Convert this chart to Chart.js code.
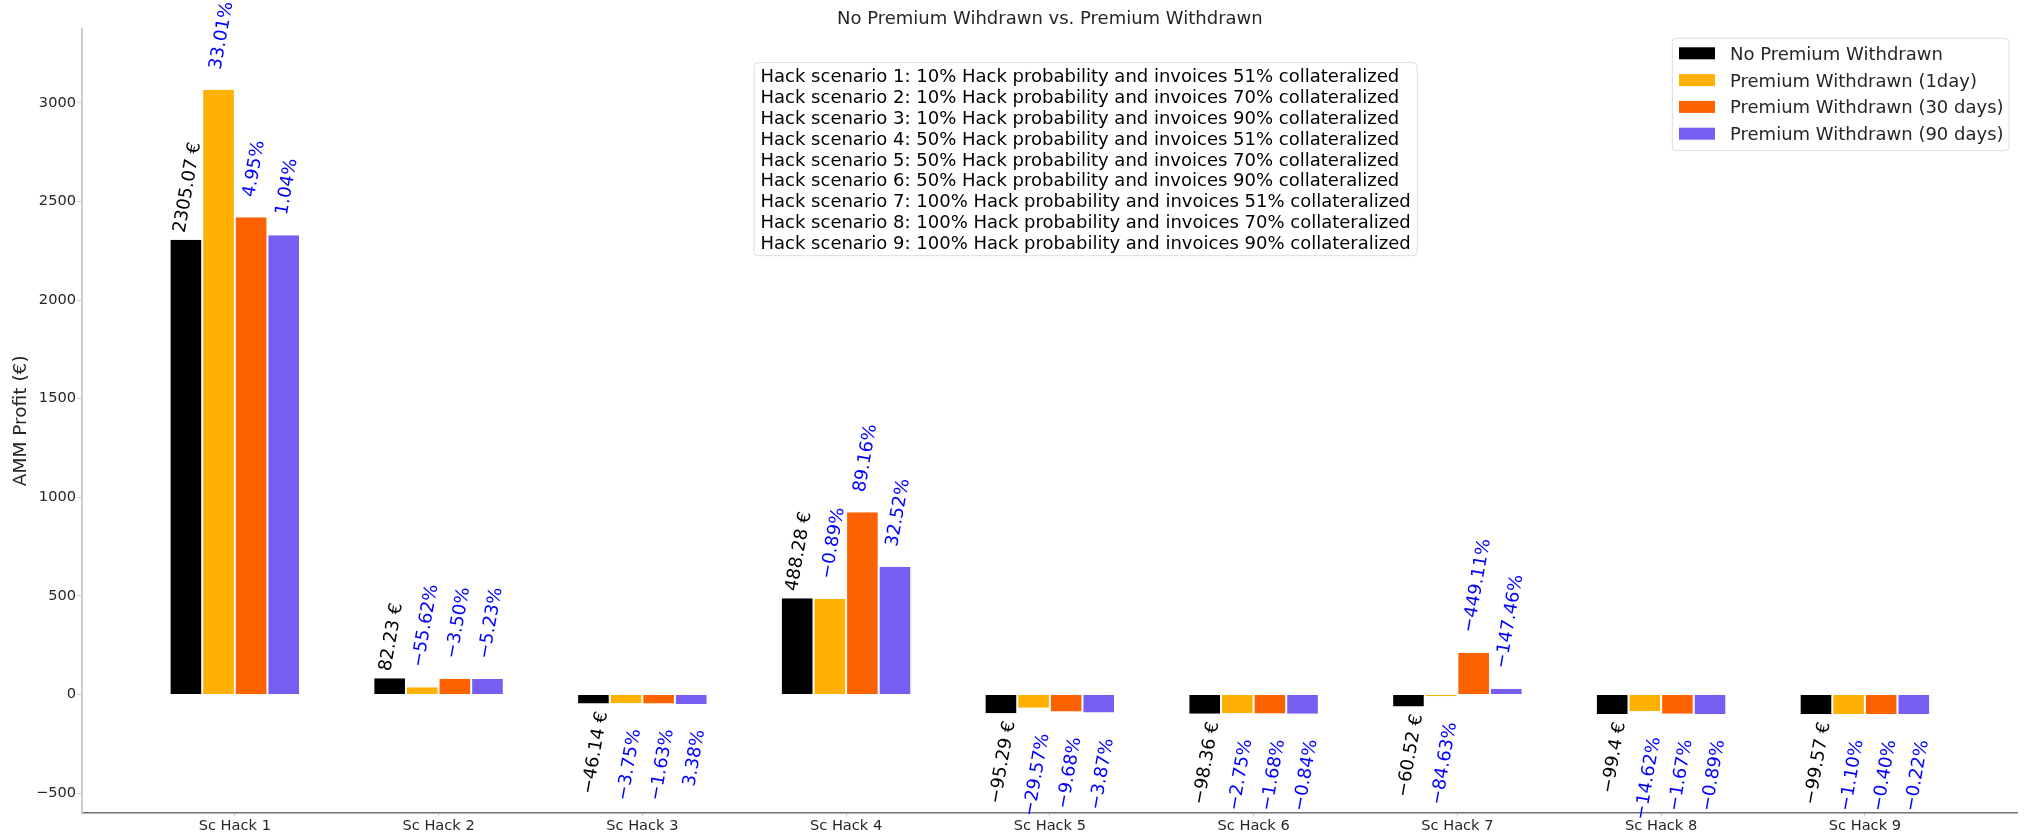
<!DOCTYPE html>
<html><head><meta charset="utf-8">
<script src="https://cdn.jsdelivr.net/npm/chart.js@4.4.0/dist/chart.umd.min.js"></script>
<style>html,body{margin:0;padding:0;background:#fff;} canvas{display:block;}</style>
</head><body>
<canvas id="c" width="2027" height="834"></canvas>
<script>
// ---- data ----
const categories = ['Sc Hack 1','Sc Hack 2','Sc Hack 3','Sc Hack 4','Sc Hack 5','Sc Hack 6','Sc Hack 7','Sc Hack 8','Sc Hack 9'];
const seriesNames = ['No Premium Withdrawn','Premium Withdrawn (1day)','Premium Withdrawn (30 days)','Premium Withdrawn (90 days)'];
const seriesColors = ['#000000','#FFB000','#FE6100','#785EF0'];
const noPremium  = [2305.07, 82.23, -46.14, 488.28, -95.29, -98.36, -60.52, -99.40, -99.57];
const premium1d  = [3066.00, 36.49, -44.41, 483.93, -67.11, -95.65, -9.30, -84.87, -98.47];
const premium30d = [2419.20, 79.35, -45.39, 923.63, -86.07, -96.71, 211.28, -97.74, -99.17];
const premium90d = [2329.00, 77.93, -47.70, 647.07, -91.60, -97.53, 28.72, -98.52, -99.35];
const euroLabels = ['2305.07 €','82.23 €','−46.14 €','488.28 €','−95.29 €','−98.36 €','−60.52 €','−99.4 €','−99.57 €'];
const pct1d  = ['33.01%','−55.62%','−3.75%','−0.89%','−29.57%','−2.75%','−84.63%','−14.62%','−1.10%'];
const pct30d = ['4.95%','−3.50%','−1.63%','89.16%','−9.68%','−1.68%','−449.11%','−1.67%','−0.40%'];
const pct90d = ['1.04%','−5.23%','3.38%','32.52%','−3.87%','−0.84%','−147.46%','−0.89%','−0.22%'];
const yTicks = [-500, 0, 500, 1000, 1500, 2000, 2500, 3000];
const yMin = -597.42, yMax = 3372.6;
const titleText = 'No Premium Wihdrawn vs. Premium Withdrawn';
const yTitleText = 'AMM Profit (€)';
const scenarioLines = [
 'Hack scenario 1: 10% Hack probability and invoices 51% collateralized',
 'Hack scenario 2: 10% Hack probability and invoices 70% collateralized',
 'Hack scenario 3: 10% Hack probability and invoices 90% collateralized',
 'Hack scenario 4: 50% Hack probability and invoices 51% collateralized',
 'Hack scenario 5: 50% Hack probability and invoices 70% collateralized',
 'Hack scenario 6: 50% Hack probability and invoices 90% collateralized',
 'Hack scenario 7: 100% Hack probability and invoices 51% collateralized',
 'Hack scenario 8: 100% Hack probability and invoices 70% collateralized',
 'Hack scenario 9: 100% Hack probability and invoices 90% collateralized'
];

const seriesValues = [noPremium, premium1d, premium30d, premium90d];
const seriesLabels = [euroLabels, pct1d, pct30d, pct90d];
const FONT = 'DejaVu Sans';
const TXT = '#262626';

Chart.defaults.font.family = FONT;
Chart.defaults.color = TXT;

function roundRect(ctx, x, y, w, h, r) {
  ctx.beginPath();
  ctx.moveTo(x + r, y);
  ctx.lineTo(x + w - r, y); ctx.quadraticCurveTo(x + w, y, x + w, y + r);
  ctx.lineTo(x + w, y + h - r); ctx.quadraticCurveTo(x + w, y + h, x + w - r, y + h);
  ctx.lineTo(x + r, y + h); ctx.quadraticCurveTo(x, y + h, x, y + h - r);
  ctx.lineTo(x, y + r); ctx.quadraticCurveTo(x, y, x + r, y);
  ctx.closePath();
}

const decor = {
  id: 'decor',
  afterDatasetsDraw(chart) {
    const ctx = chart.ctx;
    const fs = 18;
    const th = -80 * Math.PI / 180;
    const c = Math.cos(th), s = Math.sin(th);
    ctx.save();
    ctx.font = fs + 'px "' + FONT + '"';
    ctx.textAlign = 'left';
    ctx.textBaseline = 'alphabetic';
    chart.data.datasets.forEach((ds, d) => {
      const meta = chart.getDatasetMeta(d);
      meta.data.forEach((el, i) => {
        const txt = seriesLabels[d][i];
        const v = seriesValues[d][i];
        const W = ctx.measureText(txt).width;
        const A = 0.73 * fs;
        const pts = [[0,0],[W,0],[0,-A],[W,-A]].map(([x,y]) => [x*c - y*s, x*s + y*c]);
        const minX = Math.min(...pts.map(p=>p[0])), maxX = Math.max(...pts.map(p=>p[0]));
        const minY = Math.min(...pts.map(p=>p[1])), maxY = Math.max(...pts.map(p=>p[1]));
        const cx = el.x + (d === 0 ? 0 : 1.5);
        const ox = cx - (minX + maxX) / 2;
        let oy;
        if (v >= 0) {
          const off = d === 0 ? 6.5 : 19.5;
          oy = (el.y - off) - maxY;
        } else {
          const off = d === 0 ? 6.5 : 24.5;
          oy = (el.y + off) - minY;
        }
        ctx.save();
        ctx.translate(ox, oy);
        ctx.rotate(th);
        ctx.fillStyle = d === 0 ? '#000000' : '#0000ff';
        ctx.fillText(txt, 0, 0);
        ctx.restore();
      });
    });
    ctx.restore();
  },
  afterDraw(chart) {
    const ctx = chart.ctx;
    const ca = chart.chartArea;
    const fs = 18;
    ctx.save();
    // title
    ctx.font = fs + 'px "' + FONT + '"';
    ctx.fillStyle = TXT;
    ctx.textAlign = 'center';
    ctx.textBaseline = 'middle';
    ctx.fillText(titleText, (ca.left + ca.right) / 2, 19);
    // y axis title
    ctx.save();
    ctx.font = '18.5px "' + FONT + '"';
    ctx.translate(21, (ca.top + ca.bottom) / 2);
    ctx.rotate(-Math.PI / 2);
    ctx.fillText(yTitleText, 0, 0);
    ctx.restore();

    // scenario text box
    ctx.textAlign = 'left';
    ctx.textBaseline = 'alphabetic';
    let maxW = 0;
    scenarioLines.forEach(l => { maxW = Math.max(maxW, ctx.measureText(l).width); });
    const bx = 754, by = 62.7, lh = 20.8, padL = 6.5;
    const bw = maxW + 2 * padL, bh = 193;
    roundRect(ctx, bx, by, bw, bh, 4);
    ctx.fillStyle = 'rgba(255,255,255,0.8)';
    ctx.fill();
    ctx.strokeStyle = '#dcdcdc';
    ctx.lineWidth = 1;
    ctx.stroke();
    ctx.fillStyle = '#000000';
    scenarioLines.forEach((l, k) => ctx.fillText(l, bx + padL, 82.3 + k * lh));

    // legend
    const lx = 1672.3, ly = 38.3, lw = 336.7, lhh = 112.4;
    roundRect(ctx, lx, ly, lw, lhh, 4);
    ctx.fillStyle = 'rgba(255,255,255,0.8)';
    ctx.fill();
    ctx.strokeStyle = '#dcdcdc';
    ctx.stroke();
    const rowC = [53.3, 80.1, 106.9, 133.7];
    chart.data.datasets.forEach((ds, d) => {
      ctx.fillStyle = ds.backgroundColor;
      ctx.fillRect(1679, rowC[d] - 6, 36, 12);
      ctx.fillStyle = TXT;
      ctx.fillText(ds.label, 1730, rowC[d] + 6.5);
    });
    ctx.restore();
  }
};

new Chart(document.getElementById('c'), {
  type: 'bar',
  data: {
    datasets: seriesValues.map((vals, d) => ({
      label: seriesNames[d],
      data: vals.map((v, i) => ({ x: i, y: v })),
      backgroundColor: seriesColors[d],
      borderColor: '#ffffff',
      borderWidth: { left: 1, right: 1, top: 0, bottom: 0 },
      borderSkipped: false,
      categoryPercentage: 0.64,
      barPercentage: 1.0
    }))
  },
  options: {
    responsive: false,
    devicePixelRatio: 1,
    animation: false,
    layout: { padding: { left: 0, right: 9.3, top: 29.3, bottom: 0 } },
    plugins: { legend: { display: false }, title: { display: false }, tooltip: { enabled: false } },
    scales: {
      x: {
        type: 'linear',
        min: -0.75, max: 8.75,
        offset: false,
        afterBuildTicks: (s) => { s.ticks = categories.map((c, i) => ({ value: i })); },
        afterFit: (s) => { s.height = 21.7; },
        ticks: {
          autoSkip: false, maxRotation: 0, padding: 1,
          font: { size: 14.6 }, color: TXT,
          callback: (v) => categories[v]
        },
        grid: { drawOnChartArea: false, drawTicks: true, tickLength: 4, tickColor: '#cccccc', offset: false },
        border: { color: '#707070', width: 1.5 }
      },
      y: {
        min: yMin, max: yMax,
        afterBuildTicks: (s) => { s.ticks = yTicks.map(v => ({ value: v })); },
        afterFit: (s) => { s.width = 82; },
        ticks: {
          padding: 1, font: { size: 14.6 }, color: TXT,
          callback: (v) => (v < 0 ? '−' + Math.abs(v) : String(v))
        },
        grid: { drawOnChartArea: false, drawTicks: true, tickLength: 5, tickColor: '#cccccc' },
        border: { color: '#cccccc', width: 2 }
      }
    }
  },
  plugins: [decor]
});
</script>
</body></html>
